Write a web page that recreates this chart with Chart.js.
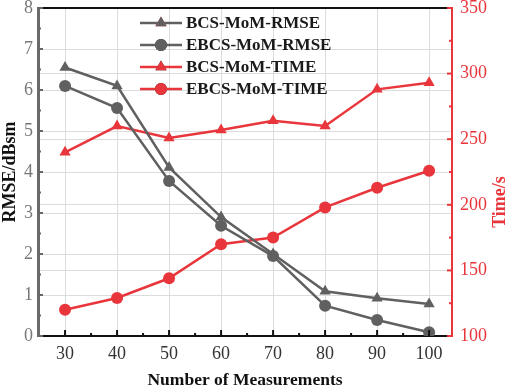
<!DOCTYPE html>
<html>
<head>
<meta charset="utf-8">
<script src="https://cdn.jsdelivr.net/npm/chart.js@4.4.1/dist/chart.umd.min.js"></script>
<style>
  body { margin: 0; background: #fff; }
  #wrap { width: 512px; height: 389px; }
</style>
</head>
<body>
<div id="wrap"><canvas id="chart"></canvas></div>
<script>
var measurements = [30, 40, 50, 60, 70, 80, 90, 100];
var bcsRmse  = [6.55, 6.1, 4.11, 2.9, 2.0, 1.09, 0.92, 0.78];
var ebcsRmse = [6.1, 5.56, 3.78, 2.69, 1.95, 0.74, 0.39, 0.09];
var bcsTime  = [240, 260, 251, 257, 264, 260, 288, 293];
var ebcsTime = [120, 129, 144, 170, 175, 198, 213, 226];
var rmseTicks = [0, 1, 2, 3, 4, 5, 6, 7, 8];
var timeTicks = [100, 150, 200, 250, 300, 350];
var seriesNames = ['BCS-MoM-RMSE', 'EBCS-MoM-RMSE', 'BCS-MoM-TIME', 'EBCS-MoM-TIME'];

var GRAY = '#606060', RED = '#e8363c', SERIF = '"Liberation Serif", "DejaVu Serif", serif';

function pts(ys) {
    return measurements.map(function (x, i) { return { x: x, y: ys[i] }; });
}
function series(label, ys, color, style, axis) {
    return {
        label: label, data: pts(ys), yAxisID: axis,
        borderColor: color, backgroundColor: color, borderWidth: 2.5,
        pointStyle: style, pointRadius: style === 'triangle' ? 6.5 : 6,
        pointBorderWidth: 0, tension: 0
    };
}
function fitY(width) {
    return function (s) { s.width = width; s.paddingTop = 0; s.paddingBottom = 0; };
}

// ticks pointing inward, top border, titles, legend
var decor = {
    id: 'decor',
    afterDraw: function (chart) {
        var ctx = chart.ctx, a = chart.chartArea;
        var x = chart.scales.x, y = chart.scales.y, y1 = chart.scales.y1;
        ctx.save();
        ctx.lineWidth = 2;
        ctx.strokeStyle = '#111';
        ctx.beginPath(); ctx.moveTo(a.left, a.top); ctx.lineTo(a.right, a.top); ctx.stroke();

        function tick(x0, y0, x1, y1c, color) {
            ctx.strokeStyle = color; ctx.beginPath(); ctx.moveTo(x0, y0); ctx.lineTo(x1, y1c); ctx.stroke();
        }
        ctx.lineWidth = 2;
        for (var v = 0; v <= 8; v += 0.5) {
            var py = y.getPixelForValue(v), len = v % 1 === 0 ? 5 : 3;
            tick(a.left, py, a.left + len, py, '#666');
        }
        for (var m = 30; m <= 100; m += 5) {
            var px = x.getPixelForValue(m), l = m % 10 === 0 ? 6 : 3;
            tick(px, a.bottom, px, a.bottom - l, '#111');
        }
        for (var t = 100; t <= 350; t += 25) {
            var ty = y1.getPixelForValue(t), tl = t % 50 === 0 ? 5 : 3;
            tick(a.right, ty, a.right - tl, ty, RED);
        }

        ctx.font = 'bold 17.5px ' + SERIF;
        ctx.fillStyle = '#111';
        ctx.textAlign = 'center'; ctx.textBaseline = 'middle';
        ctx.fillText('Number of Measurements', (a.left + a.right) / 2, 380);

        ctx.font = 'bold 18px ' + SERIF;
        ctx.save(); ctx.translate(10, (a.top + a.bottom) / 2); ctx.rotate(-Math.PI / 2);
        ctx.fillText('RMSE/dBsm', 0, 0); ctx.restore();
        ctx.fillStyle = RED;
        ctx.save(); ctx.translate(500, (a.top + a.bottom) / 2 + 30); ctx.rotate(-Math.PI / 2);
        ctx.fillText('Time/s', 0, 0); ctx.restore();

        // legend
        var colors = [GRAY, GRAY, RED, RED], styles = ['triangle', 'circle', 'triangle', 'circle'];
        ctx.font = 'bold 17px ' + SERIF;
        ctx.textAlign = 'left';
        seriesNames.forEach(function (name, i) {
            var ly = 23 + i * 22;
            ctx.strokeStyle = colors[i]; ctx.lineWidth = 2.5;
            ctx.beginPath(); ctx.moveTo(140, ly); ctx.lineTo(182, ly); ctx.stroke();
            Chart.helpers.drawPoint(ctx, { pointStyle: styles[i], radius: styles[i] === 'triangle' ? 6.5 : 6, rotation: 0, borderWidth: 0 }, 161, ly);
            ctx.fillStyle = colors[i]; ctx.fill();
            ctx.fillStyle = '#1a1a1a';
            ctx.fillText(name, 186, ly + 1);
        });
        ctx.restore();
    }
};

new Chart(document.getElementById('chart'), {
    type: 'line',
    data: {
        datasets: [
            series(seriesNames[0], bcsRmse, GRAY, 'triangle', 'y'),
            series(seriesNames[1], ebcsRmse, GRAY, 'circle', 'y'),
            series(seriesNames[2], bcsTime, RED, 'triangle', 'y1'),
            series(seriesNames[3], ebcsTime, RED, 'circle', 'y1')
        ]
    },
    options: {
        responsive: true,
        maintainAspectRatio: false,
        animation: false,
        layout: { padding: { top: 8, left: 0, right: 0, bottom: 0 } },
        scales: {
            x: {
                type: 'linear', min: 24.8, max: 104.4,
                afterBuildTicks: function (s) { s.ticks = measurements.map(function (v) { return { value: v }; }); },
                afterFit: function (s) { s.height = 53; s.paddingLeft = 0; s.paddingRight = 0; },
                grid: { color: '#dcdcdc', drawTicks: false },
                border: { color: '#111', width: 2 },
                ticks: { padding: 7, color: '#333', font: { family: SERIF, size: 18 } }
            },
            y: {
                position: 'left', min: 0, max: 8,
                afterBuildTicks: function (s) { s.ticks = rmseTicks.map(function (v) { return { value: v }; }); },
                afterFit: fitY(38),
                grid: { color: '#dcdcdc', drawTicks: false },
                border: { color: '#6a6a6a', width: 3 },
                ticks: { padding: 5, color: '#777', font: { family: SERIF, size: 18 } }
            },
            y1: {
                position: 'right', min: 100, max: 350,
                afterBuildTicks: function (s) { s.ticks = timeTicks.map(function (v) { return { value: v }; }); },
                afterFit: fitY(60),
                grid: { color: '#dcdcdc', drawTicks: false, drawOnChartArea: true },
                border: { color: RED, width: 2 },
                ticks: { padding: 8, color: RED, font: { family: SERIF, size: 18 } }
            }
        },
        plugins: { legend: { display: false }, tooltip: { enabled: false } }
    },
    plugins: [decor]
});
</script>
</body>
</html>
